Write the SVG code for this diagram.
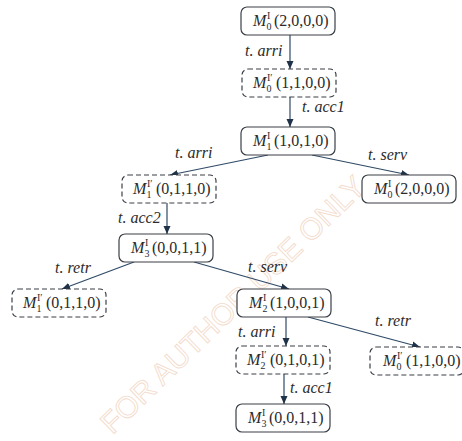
<svg xmlns="http://www.w3.org/2000/svg" width="462" height="441" viewBox="0 0 462 441">
<style>
.box{fill:#fff;stroke:#3a3f47;stroke-width:1.2}
.dash{stroke-dasharray:5 3}
.m{font-family:"Liberation Serif",serif;font-size:16px;fill:#2b2b2b}
.it{font-style:italic}
.s{font-size:10px}
.lbl{font-family:"Liberation Serif",serif;font-size:16px;font-style:italic;fill:#2b2b2b}
.c{stroke:#2f4a66;stroke-width:1.2;fill:none;marker-end:url(#ah)}
.wm{font-family:"Liberation Sans",sans-serif;font-size:30px;fill:none;stroke:#f3dccd;stroke-width:0.9}
</style>
<defs>
<marker id="ah" markerUnits="userSpaceOnUse" markerWidth="9" markerHeight="8" refX="8" refY="4" orient="auto">
<path d="M0,0.5 L8,4 L0,7.5 Z" fill="#1f3247"/>
</marker>
</defs>
<rect width="462" height="441" fill="#fff"/>
<text class="wm" transform="translate(240,312) rotate(-44)" text-anchor="middle">FOR AUTHOR USE ONLY</text>
<g id="connectors">
<line class="c" x1="290" y1="35" x2="290" y2="69"/>
<line class="c" x1="290" y1="97" x2="290" y2="127"/>
<line class="c" x1="268" y1="155" x2="170" y2="175"/>
<line class="c" x1="312" y1="155" x2="409" y2="175"/>
<line class="c" x1="167" y1="203" x2="167" y2="234"/>
<line class="c" x1="134" y1="262" x2="62" y2="289"/>
<line class="c" x1="194" y1="262" x2="289" y2="289"/>
<line class="c" x1="286" y1="317" x2="286" y2="346"/>
<line class="c" x1="308" y1="317" x2="420" y2="347"/>
<line class="c" x1="284" y1="374" x2="284" y2="404"/>
<text class="lbl" x="245" y="56">t.<tspan dx="4">arri</tspan></text>
<text class="lbl" x="302" y="112">t.<tspan dx="4">acc1</tspan></text>
<text class="lbl" x="175" y="158">t.<tspan dx="4">arri</tspan></text>
<text class="lbl" x="368" y="160">t.<tspan dx="4">serv</tspan></text>
<text class="lbl" x="118" y="223">t.<tspan dx="4">acc2</tspan></text>
<text class="lbl" x="55" y="273">t.<tspan dx="4">retr</tspan></text>
<text class="lbl" x="248" y="272">t.<tspan dx="4">serv</tspan></text>
<text class="lbl" x="238" y="337">t.<tspan dx="4">arri</tspan></text>
<text class="lbl" x="375" y="326">t.<tspan dx="4">retr</tspan></text>
<text class="lbl" x="290" y="393">t.<tspan dx="4">acc1</tspan></text>
</g>
<g id="n1">
<rect class="box" x="241" y="7" width="94" height="28" rx="6"/>
<text class="m" y="26"><tspan class="it" x="253">M</tspan><tspan class="s" x="266.5" y="30">0</tspan><tspan class="s" x="267" y="19">I</tspan><tspan x="274" y="26">(2,0,0,0)</tspan></text>
</g>
<g id="n2">
<rect class="box dash" x="242" y="69" width="94" height="28" rx="6"/>
<text class="m" y="88"><tspan class="it" x="253">M</tspan><tspan class="s" x="266.5" y="92">0</tspan><tspan class="s" x="267" y="81">I′</tspan><tspan x="276" y="88">(1,1,0,0)</tspan></text>
</g>
<g id="n3">
<rect class="box" x="241" y="127" width="94" height="28" rx="6"/>
<text class="m" y="146"><tspan class="it" x="253">M</tspan><tspan class="s" x="266.5" y="150">1</tspan><tspan class="s" x="267" y="139">I</tspan><tspan x="274" y="146">(1,0,1,0)</tspan></text>
</g>
<g id="n4">
<rect class="box dash" x="122" y="175" width="94" height="28" rx="6"/>
<text class="m" y="194"><tspan class="it" x="133">M</tspan><tspan class="s" x="146.5" y="198">1</tspan><tspan class="s" x="147" y="187">I′</tspan><tspan x="156" y="194">(0,1,1,0)</tspan></text>
</g>
<g id="n5">
<rect class="box" x="362" y="175" width="94" height="28" rx="6"/>
<text class="m" y="194"><tspan class="it" x="374">M</tspan><tspan class="s" x="387.5" y="198">0</tspan><tspan class="s" x="388" y="187">I</tspan><tspan x="395" y="194">(2,0,0,0)</tspan></text>
</g>
<g id="n6">
<rect class="box" x="119" y="234" width="94" height="28" rx="6"/>
<text class="m" y="253"><tspan class="it" x="131">M</tspan><tspan class="s" x="144.5" y="257">3</tspan><tspan class="s" x="145" y="246">I</tspan><tspan x="152" y="253">(0,0,1,1)</tspan></text>
</g>
<g id="n7">
<rect class="box dash" x="12" y="289" width="94" height="28" rx="6"/>
<text class="m" y="308"><tspan class="it" x="23">M</tspan><tspan class="s" x="36.5" y="312">1</tspan><tspan class="s" x="37" y="301">I′</tspan><tspan x="46" y="308">(0,1,1,0)</tspan></text>
</g>
<g id="n8">
<rect class="box" x="237" y="289" width="94" height="28" rx="6"/>
<text class="m" y="308"><tspan class="it" x="249">M</tspan><tspan class="s" x="262.5" y="312">2</tspan><tspan class="s" x="263" y="301">I</tspan><tspan x="270" y="308">(1,0,0,1)</tspan></text>
</g>
<g id="n9">
<rect class="box dash" x="236" y="346" width="94" height="28" rx="6"/>
<text class="m" y="365"><tspan class="it" x="247">M</tspan><tspan class="s" x="260.5" y="369">2</tspan><tspan class="s" x="261" y="358">I′</tspan><tspan x="270" y="365">(0,1,0,1)</tspan></text>
</g>
<g id="n10">
<rect class="box dash" x="370" y="347" width="94" height="28" rx="6"/>
<text class="m" y="366"><tspan class="it" x="383">M</tspan><tspan class="s" x="396.5" y="370">0</tspan><tspan class="s" x="397" y="359">I′</tspan><tspan x="406" y="366">(1,1,0,0)</tspan></text>
</g>
<g id="n11">
<rect class="box" x="236" y="404" width="94" height="28" rx="6"/>
<text class="m" y="423"><tspan class="it" x="248">M</tspan><tspan class="s" x="261.5" y="427">3</tspan><tspan class="s" x="262" y="416">I</tspan><tspan x="269" y="423">(0,0,1,1)</tspan></text>
</g>
</svg>
